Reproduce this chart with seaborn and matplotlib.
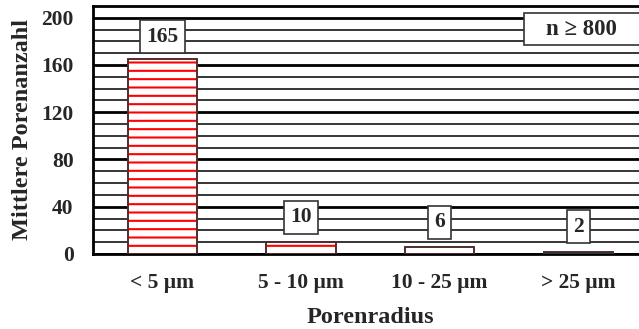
import matplotlib
matplotlib.use("Agg")
import matplotlib.pyplot as plt
import seaborn as sns
import pandas as pd

categories = ["< 5 µm", "5 - 10 µm", "10 - 25 µm", "> 25 µm"]
values = [165, 10, 6, 2]
label_pos = [184, 31, 27, 23]
note = "n ≥ 800"

sns.set_theme(style="white")
plt.rcParams["font.family"] = ["Liberation Serif", "DejaVu Serif"]
plt.rcParams["font.weight"] = "bold"
plt.rcParams["hatch.linewidth"] = 1.5

df = pd.DataFrame({"Porenradius": categories, "Anzahl": values})

fig = plt.figure(figsize=(6.39, 3.29), dpi=100)
ax = fig.add_axes([0.1455, 0.228, 0.868, 0.754])

sns.barplot(data=df, x="Porenradius", y="Anzahl", ax=ax, width=0.5,
            color="white", edgecolor="#333333", linewidth=1.2, zorder=3)
for patch, v in list(zip(ax.patches, values)):
    # red horizontal hatching on every bar
    patch.set_hatch("--")
    patch.set_edgecolor("red")
    patch.set_facecolor("white")
    # dark outline drawn over the red hatching
    ax.add_patch(plt.Rectangle(patch.get_xy(), patch.get_width(), patch.get_height(),
                               fill=(v < 5), facecolor="#444444", edgecolor="#333333",
                               linewidth=1.2, zorder=4))

ax.set_ylim(0, 210)
ax.set_xlim(-0.5, 3.5)
ax.set_yticks(range(0, 201, 40))
ax.set_yticks(range(0, 211, 10), minor=True)
ax.grid(axis="y", which="major", color="black", linewidth=2.0, zorder=0)
ax.grid(axis="y", which="minor", color="black", linewidth=1.1, zorder=0)
ax.set_axisbelow(True)

for s in ["top", "left", "bottom", "right"]:
    ax.spines[s].set_color("black")
    ax.spines[s].set_linewidth(2.0)

ax.tick_params(axis="y", which="both", left=False, length=0, labelsize=15.5, pad=14)
ax.tick_params(axis="x", bottom=False, length=0, labelsize=15.5, pad=14)
for t in ax.get_yticklabels() + ax.get_xticklabels():
    t.set_fontweight("bold")

ax.set_xlabel("Porenradius", fontsize=17.5, fontweight="bold", labelpad=10)
ax.set_ylabel("Mittlere Porenanzahl", fontsize=17.5, fontweight="bold", labelpad=6)

box = dict(boxstyle="square,pad=0.3", facecolor="white", edgecolor="#333333", linewidth=1.2)
for i, (v, y) in enumerate(zip(values, label_pos)):
    ax.text(i, y, f"{v}", ha="center", va="center", fontsize=15.5, fontweight="bold",
            bbox=box, zorder=6)

# sample size note in the upper right corner
ax.add_patch(plt.Rectangle((0.777, 0.843), 0.209, 0.129, transform=ax.transAxes,
                           facecolor="white", edgecolor="#333333", linewidth=1.2,
                           zorder=6, clip_on=False))
ax.text(0.8815, 0.905, note, transform=ax.transAxes, ha="center", va="center",
        fontsize=16.5, fontweight="bold", zorder=7)

fig.savefig("out.png", dpi=100)
